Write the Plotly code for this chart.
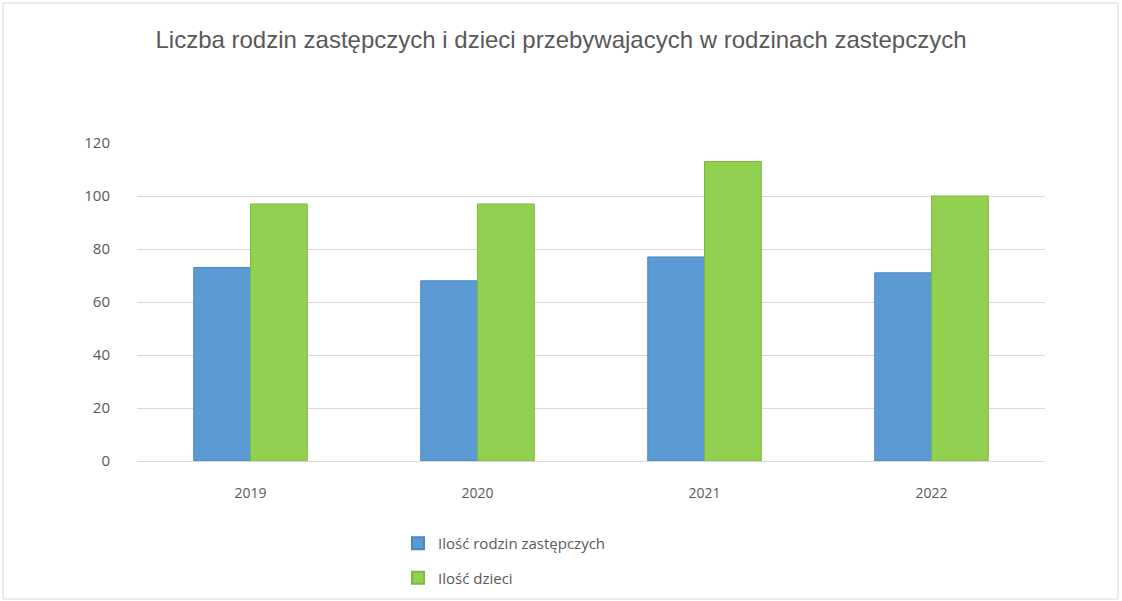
import plotly.graph_objects as go

years = ["2019", "2020", "2021", "2022"]
rodziny = [73, 68, 77, 71]
dzieci = [97, 97, 113, 100]
y_ticks = [0, 20, 40, 60, 80, 100, 120]

W, H = 1122, 601
L, R, T, B = 137, 77, 143, 140
pw, ph = W - L - R, H - T - B

fig = go.Figure()
fig.add_trace(go.Bar(x=years, y=rodziny, name="Ilość rodzin zastępczych", legendgroup="a",
                     marker=dict(color="#5B9BD5", line=dict(color="#4A86BD", width=1))))
fig.add_trace(go.Bar(x=years, y=dzieci, name="Ilość dzieci", legendgroup="b",
                     marker=dict(color="#92D050", line=dict(color="#7DB842", width=1))))

fig.update_layout(
    width=W, height=H,
    margin=dict(l=L, r=R, t=T, b=B, autoexpand=False),
    paper_bgcolor="white", plot_bgcolor="white",
    font=dict(family="Open Sans, DejaVu Sans, sans-serif", color="#595959", size=14),
    title=dict(text="Liczba rodzin zastępczych i dzieci przebywajacych w rodzinach zastepczych",
               x=0.5, xanchor="center", y=1 - 40 / H, yanchor="middle",
               font=dict(family="Liberation Sans Narrow, Liberation Sans, sans-serif", size=24, color="#595959")),
    barmode="group", bargap=0.5, bargroupgap=0.0,
    xaxis=dict(showgrid=False, showline=True, linecolor="#D9D9D9", linewidth=1, automargin=False,
               ticks="", ticklabelstandoff=19, tickfont=dict(size=14, color="#595959")),
    yaxis=dict(range=[0, 120], tickvals=y_ticks, showgrid=True, gridcolor="#D9D9D9", automargin=False,
               gridwidth=1, zeroline=False, showline=False, ticks="",
               ticklabelstandoff=26, tickfont=dict(size=15, color="#595959")),
    legend=dict(orientation="v", x=(398 - L) / pw, xanchor="left",
                y=(H - B - 527) / ph, yanchor="top",
                font=dict(size=15, color="#595959"), tracegroupgap=12,
                traceorder="grouped", itemsizing="constant"),
    shapes=[dict(type="rect", xref="paper", yref="paper",
                 x0=-(L - 3) / pw, x1=1 + (R - 4) / pw,
                 y0=-(B - 2) / ph, y1=1 + (T - 3) / ph,
                 line=dict(color="#D9D9D9", width=1), fillcolor="rgba(0,0,0,0)", layer="below")],
)

fig.write_html("out.html", config={"displayModeBar": False},
               post_script="document.body.style.margin='0px';")
